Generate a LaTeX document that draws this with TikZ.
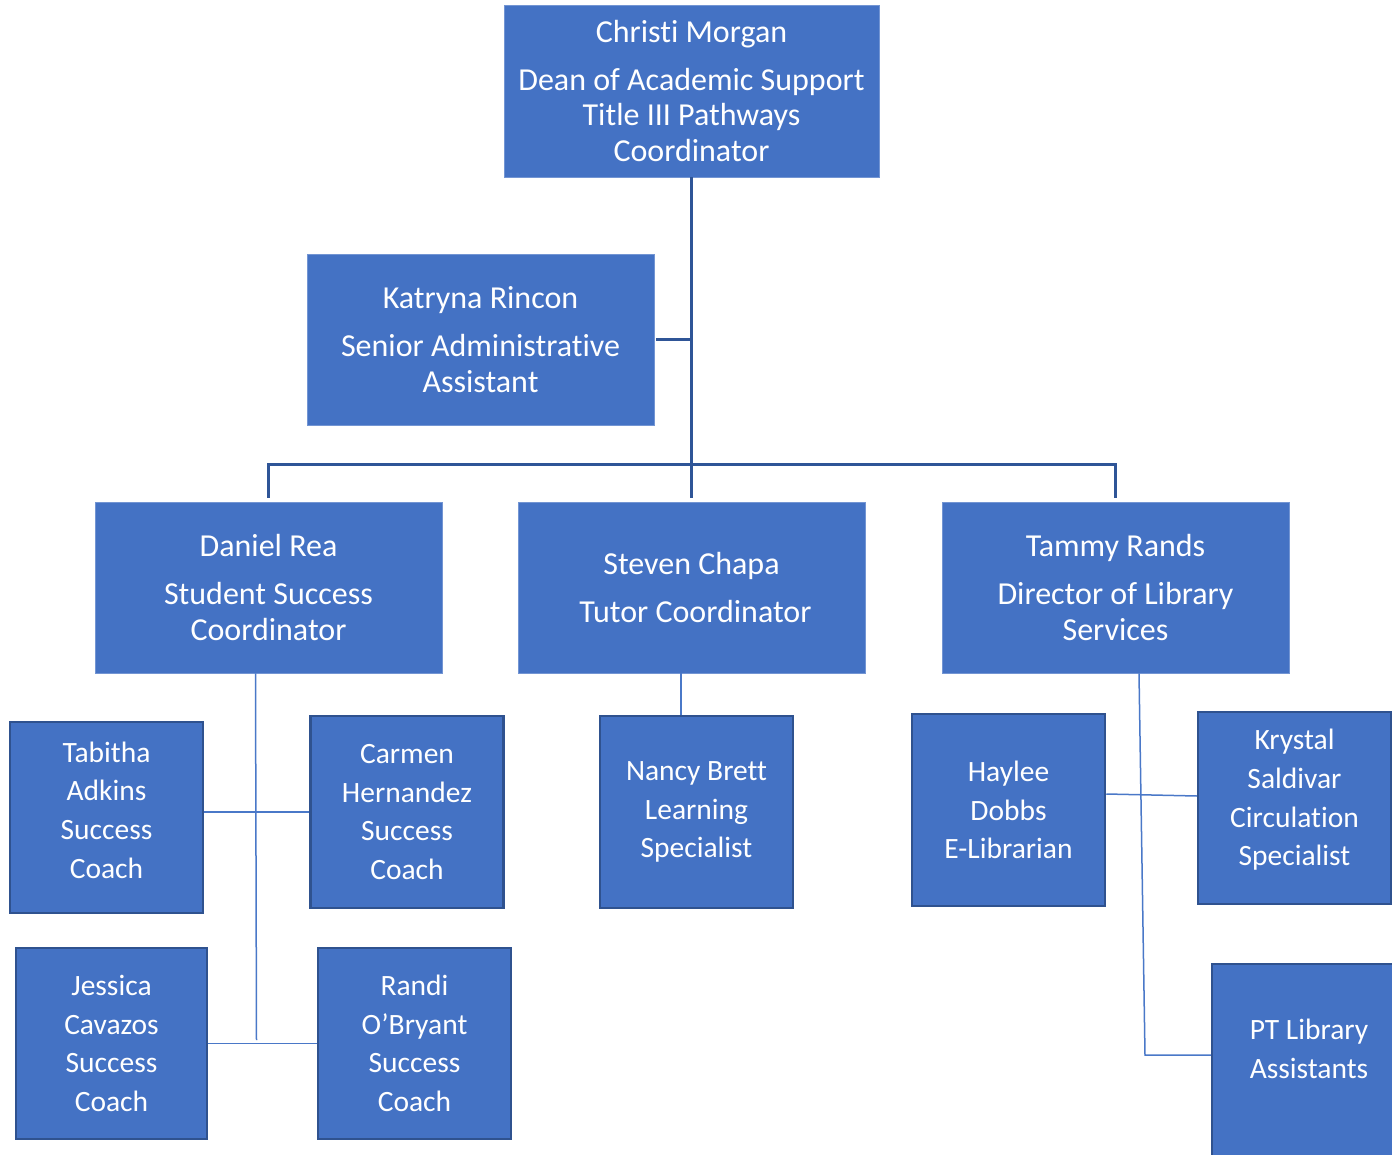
\documentclass[tikz,border=0pt]{standalone}
\usepackage{fontspec}
\setmainfont{Carlito}[RawFeature={-liga;-clig;-calt;-dlig}]
\definecolor{boxfill}{HTML}{4472C4}
\definecolor{boxedge}{HTML}{2F528F}
\definecolor{thickc}{HTML}{2F5597}
\definecolor{thinc}{HTML}{4A78C8}
\begin{document}
\begin{tikzpicture}[x=1pt,y=-1pt,
  bigbox/.style={fill=boxfill, draw=boxfill!75!white, line width=0.8pt, text=white, align=center,
    font=\fontsize{32}{35.5}\selectfont, inner sep=0pt, minimum width=347pt, minimum height=171pt},
  smallbox/.style={fill=boxfill, draw=boxedge, line width=2.5pt, text=white, align=center,
    font=\fontsize{29.5}{38.7}\selectfont, inner sep=0pt, minimum width=193pt, minimum height=192pt},
  plaintext/.style={text=white, align=center, font=\fontsize{29.5}{38.7}\selectfont, inner sep=0pt},
  thickline/.style={draw=thickc, line width=3pt},
  thinline/.style={draw=thinc, line width=1.5pt}]
\useasboundingbox (0,0) rectangle (1392,1155);
\fill[white] (0,0) rectangle (1392,1155);

% level 0 and 1
\node[bigbox, minimum width=375pt, minimum height=172pt] (top) at (691.5,91)
  {Christi Morgan\\[12.5pt]Dean of Academic Support\\Title III Pathways\\Coordinator};
\node[bigbox] (kat) at (480.5,339.5) {Katryna Rincon\\[12.5pt]Senior Administrative\\Assistant};
\node[bigbox] (dan) at (268.5,587.5) {Daniel Rea\\[12.5pt]Student Success\\Coordinator};
\node[bigbox] (ste) at (691.5,587.5) {Steven Chapa\\[12.5pt]\hspace*{8pt}Tutor Coordinator};
\node[bigbox] (tam) at (1115.5,587.5) {Tammy Rands\\[12.5pt]Director of Library\\Services};

% level 2
\node[smallbox, minimum height=191pt] (tab) at (106.5,817.5) {};
\node[plaintext] (tabt) at (106.5,810) {Tabitha\\Adkins\\Success\\Coach};
\node[smallbox] (car) at (407,812) {Carmen\\Hernandez\\Success\\Coach};
\node[smallbox, minimum width=191pt, minimum height=191pt] (jes) at (111.5,1043.5) {Jessica\\Cavazos\\Success\\Coach};
\node[smallbox, minimum height=191pt] (ran) at (414.5,1043.5) {Randi\\O’Bryant\\Success\\Coach};
\node[smallbox] (nan) at (696.5,812) {Nancy Brett\\Learning\\Specialist};
\node[smallbox] (hay) at (1008.5,810) {Haylee\\Dobbs\\E-Librarian};
\node[smallbox] (kry) at (1294.5,808) {};
\node[plaintext] (kryt) at (1294.5,800) {Krystal\\Saldivar\\Circulation\\Specialist};
\node[smallbox] (pt) at (1308.5,1060) {};
\node[plaintext] (ptt) at (1309,1049) {PT Library\\Assistants};

% thick connectors
\coordinate (hub) at (691,464);
\draw[thickline] (top.south) -- ([yshift=4pt]ste.north);
\draw[thickline] ([yshift=4pt]dan.north) -- (dan.north |- hub) -- (tam.north |- hub) -- ([yshift=4pt]tam.north);
\draw[thickline] ([xshift=2pt]kat.east) -- (kat.east -| top.south);

% thin connectors
\coordinate (dv) at (256.5,1040);
\draw[thinline] ([xshift=-13pt]dan.south) -- (dv);
\draw[thinline] (tab.east |- car.west) -- (car.west);
\draw[thinline] (jes.east) -- (ran.west);
\draw[thinline] ([xshift=-15.5pt]nan.north) -- ([xshift=-15.5pt]nan.north |- ste.south);
\coordinate (tc) at (1145,1055);
\draw[thinline] ([xshift=23.5pt]tam.south) -- (tc) -- (tc -| pt.west);
\draw[thinline] ([yshift=16pt]hay.east) -- ([yshift=12pt]kry.west);
\end{tikzpicture}
\end{document}
